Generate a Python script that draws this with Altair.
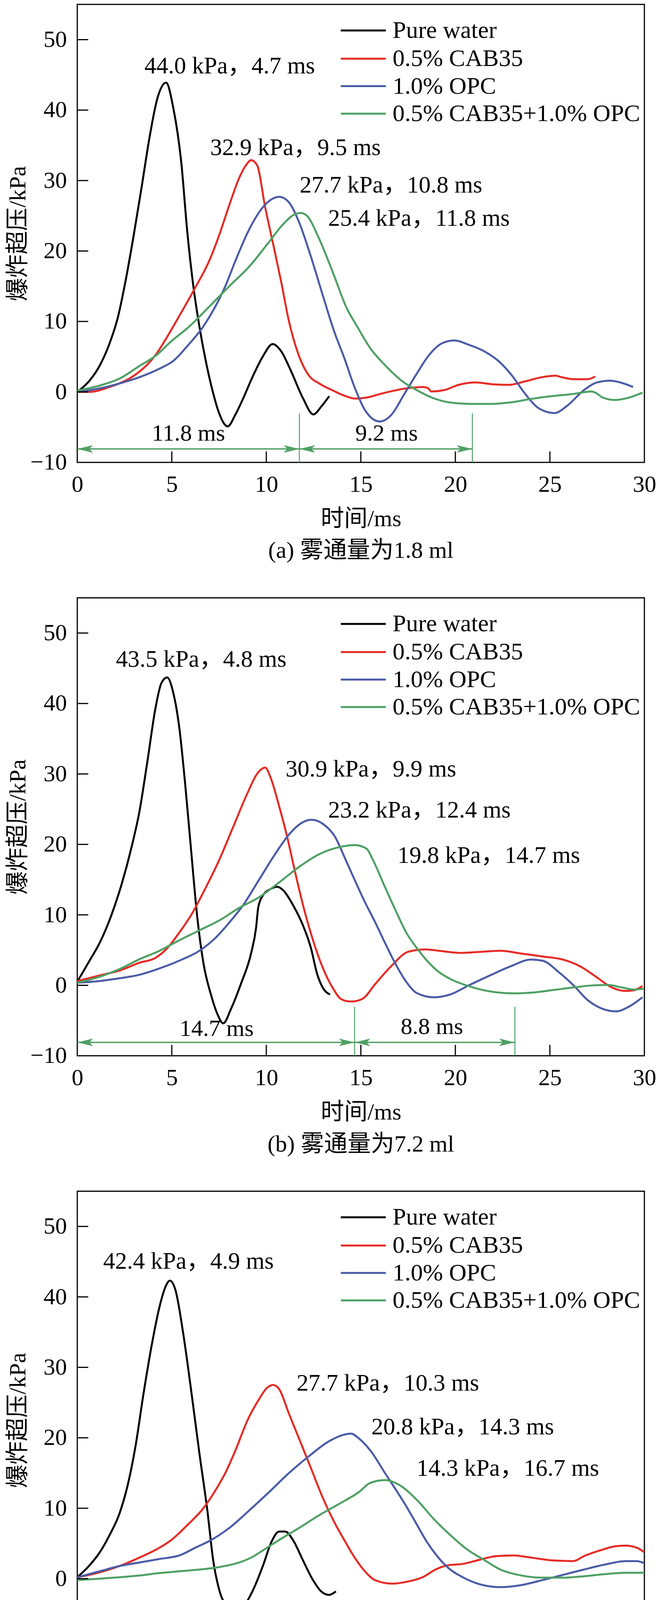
import altair as alt
import pandas as pd

FONT = "Liberation Serif, Noto Sans CJK SC"
SERIES = ["Pure water", "0.5% CAB35", "1.0% OPC", "0.5% CAB35+1.0% OPC"]
COLORS = ["#000000", "#E62B25", "#4A5BA6", "#4FA064"]
GREEN = "#4FA064"

X_TICKS = [0, 5, 10, 15, 20, 25, 30]
Y_TICKS = [-10, 0, 10, 20, 30, 40, 50]

# ---------------- panel (a) 1.8 ml ----------------
a_black_t = [0, 0.65, 1.18, 1.71, 2.13, 2.55, 2.97, 3.4, 3.82, 4.24, 4.7, 5.08, 5.5, 5.82, 6.14, 6.46, 6.77, 7.19, 7.5, 7.96, 8.35, 8.78, 9.3, 9.83, 10.34, 10.78, 11.3, 11.94, 12.49, 12.9, 13.33]
a_black_p = [0, 1.6, 3.7, 6.9, 10.4, 15.7, 22, 29, 36.1, 41.7, 43.9, 40.3, 32.6, 22.7, 15, 9.3, 4.75, -0.2, -3, -4.9, -3.3, -0.9, 2.3, 5.1, 6.8, 5.8, 3.0, -0.9, -3.2, -2.1, -0.6]
a_red_t = [0, 0.65, 1.71, 2.76, 3.3, 3.6, 4.13, 4.66, 5.4, 6.24, 6.98, 7.5, 8.04, 8.57, 8.93, 9.2, 9.51, 9.94, 10.36, 10.78, 11.2, 11.73, 12.26, 12.8, 13.6, 14.1, 14.7, 15.3, 16.3, 17.4, 18.3, 18.57, 18.73, 19.4, 20.17, 21.05, 21.9, 22.8, 23.7, 24.6, 25.3, 25.6, 26.25, 27.0, 27.4]
a_red_p = [0, 0, 0.7, 1.9, 2.9, 3.6, 5.2, 7.4, 10.8, 14.8, 18.6, 22.2, 26.5, 30.4, 32.2, 32.9, 32.2, 26.2, 21, 15.7, 10, 5.1, 2.3, 1.2, 0.1, -0.5, -0.95, -0.8, -0.1, 0.5, 0.7, 0.5, 0.06, 0.25, 1.0, 1.35, 1.1, 1.0, 1.5, 2.1, 2.3, 2.1, 1.8, 1.8, 2.2]
a_blue_t = [0, 1.18, 2.24, 3.3, 4.35, 5.08, 5.82, 6.67, 7.3, 7.83, 8.35, 9.1, 9.62, 10.15, 10.68, 11.2, 11.73, 12.36, 13.0, 13.6, 14.1, 14.65, 15.2, 16.0, 16.6, 17.3, 17.96, 18.6, 19.3, 19.95, 20.7, 21.5, 22.4, 23.0, 23.7, 24.4, 25.25, 25.9, 26.8, 27.5, 28.2, 28.9, 29.4]
a_blue_p = [0, 0.5, 1.2, 2.1, 3.3, 4.4, 6.5, 9.3, 12.1, 15, 18.5, 23.1, 25.5, 27.1, 27.7, 26.9, 24.1, 19.2, 13.6, 8.5, 5.0, 0.8, -2.5, -4.2, -3.3, -0.3, 2.6, 5.2, 6.9, 7.3, 6.7, 5.8, 4.1, 2.3, -0.3, -2.3, -3.0, -2.0, 0.25, 1.35, 1.6, 1.2, 0.7]
a_green_t = [0, 1.18, 2.24, 3.3, 4.13, 4.98, 5.93, 6.98, 8.04, 9.1, 10.15, 10.89, 11.5, 11.84, 12.15, 12.8, 13.6, 14.2, 14.87, 15.5, 16.3, 17.2, 17.96, 18.85, 19.7, 20.7, 21.8, 22.9, 24.0, 25.1, 26.2, 27.2, 27.4, 27.8, 28.45, 29.2, 29.9]
a_green_p = [0.2, 0.9, 1.9, 3.7, 5.1, 7.2, 9.3, 12.1, 15, 17.8, 21.3, 23.8, 25.2, 25.4, 25.0, 21.7, 16.4, 12.2, 9.0, 6.2, 3.75, 1.5, 0.25, -0.9, -1.5, -1.7, -1.7, -1.5, -1.0, -0.6, -0.3, 0.06, -0.1, -0.8, -1.15, -0.8, -0.1]
a_notes = ["44.0 kPa，4.7 ms", "32.9 kPa，9.5 ms", "27.7 kPa，10.8 ms", "25.4 kPa，11.8 ms"]
a_notes_t = [3.55, 7.03, 11.77, 13.27]
a_notes_p = [46.2, 34.6, 29.3, 24.6]
a_marks = [11.75, 20.9]
a_dims = ["11.8 ms", "9.2 ms"]
a_dims_t = [5.88, 16.36]
a_dims_p = [-5.9, -5.9]

# ---------------- panel (b) 7.2 ml ----------------
b_black_t = [0, 0.65, 1.18, 1.81, 2.34, 2.87, 3.29, 3.71, 4.14, 4.45, 4.75, 5.08, 5.4, 5.72, 6.03, 6.35, 6.67, 7.09, 7.4, 7.72, 8.14, 8.67, 9.2, 9.46, 9.57, 9.83, 10.25, 10.57, 10.89, 11.41, 11.94, 12.36, 12.68, 13.0, 13.37]
b_black_p = [0.5, 3.5, 6, 10, 14.3, 19.6, 24.7, 31.8, 39.4, 42.9, 43.7, 41.5, 36.5, 28.2, 18.9, 9.6, 3.2, -1.5, -4.0, -5.4, -3.3, 0.3, 4.6, 8.2, 11.0, 12.8, 13.7, 14.0, 13.5, 11.4, 8.5, 5.3, 1.7, -0.4, -1.3]
b_red_t = [0, 1.18, 2.24, 3.29, 4.14, 4.77, 5.4, 6.03, 6.67, 7.51, 8.25, 8.99, 9.51, 9.94, 10.25, 10.68, 11.1, 11.52, 11.94, 12.47, 13.0, 13.52, 13.98, 14.5, 15.1, 15.75, 16.6, 17.5, 18.4, 19.3, 20.3, 21.3, 22.4, 23.5, 24.6, 25.7, 26.6, 27.5, 28.2, 29.0, 29.45, 29.9]
b_red_p = [0.6, 1.4, 2.1, 3.2, 3.9, 5.3, 7.5, 10.0, 13.2, 17.8, 22.5, 27.2, 30.0, 30.9, 29.3, 25.4, 21.1, 16.1, 11.4, 6.4, 2.4, -0.4, -2.0, -2.3, -1.9, 0.15, 2.7, 4.75, 5.1, 4.85, 4.6, 4.75, 4.9, 4.5, 4.1, 3.65, 2.7, 1.1, -0.2, -0.8, -0.7, -0.1]
b_blue_t = [0, 1.18, 2.24, 3.29, 4.35, 5.4, 6.46, 7.3, 8.04, 8.78, 9.62, 10.46, 11.2, 11.84, 12.38, 13.0, 13.63, 14.2, 14.65, 15.2, 15.75, 16.3, 16.86, 17.4, 17.96, 18.85, 19.73, 20.72, 21.83, 22.93, 24.0, 24.6, 25.5, 26.25, 27.0, 27.8, 28.5, 29.2, 29.9]
b_blue_p = [0.36, 0.6, 1.0, 1.5, 2.4, 3.5, 4.9, 6.7, 8.9, 11.4, 15, 18.6, 21.4, 23.0, 23.5, 22.9, 21.1, 17.8, 15.1, 11.9, 9.0, 5.9, 2.9, 0.5, -1.1, -1.7, -1.3, 0.0, 1.4, 2.7, 3.65, 3.5, 1.8, 0.0, -2.1, -3.35, -3.7, -3.0, -1.7]
b_green_t = [0, 1.18, 2.24, 3.29, 4.35, 5.4, 6.46, 7.51, 8.57, 9.62, 10.68, 11.73, 12.79, 13.84, 14.68, 15.3, 15.64, 16.3, 16.86, 17.4, 17.96, 18.5, 19.07, 19.73, 20.72, 21.83, 23.15, 24.0, 25.1, 26.25, 27.35, 28.1, 28.8, 29.45, 29.95]
b_green_p = [0.36, 1.2, 2.3, 3.7, 4.9, 6.4, 7.8, 9.2, 11.0, 12.5, 14.6, 16.8, 18.6, 19.6, 19.9, 19.4, 17.8, 13.8, 10.5, 7.5, 5.3, 3.5, 2.0, 0.9, -0.13, -0.87, -1.15, -1.05, -0.7, -0.3, 0.0, 0.05, -0.3, -0.6, -0.5]
b_notes = ["43.5 kPa，4.8 ms", "30.9 kPa，9.9 ms", "23.2 kPa，12.4 ms", "19.8 kPa，14.7 ms"]
b_notes_t = [2.04, 11.02, 13.27, 16.94]
b_notes_p = [46.2, 30.6, 24.8, 18.4]
b_marks = [14.67, 23.15]
b_dims = ["14.7 ms", "8.8 ms"]
b_dims_t = [7.37, 18.76]
b_dims_p = [-6.2, -5.9]

# ---------------- panel (c) 12.6 ml ----------------
c_black_t = [0, 0.65, 1.18, 1.71, 2.24, 2.66, 3.08, 3.5, 3.92, 4.35, 4.66, 4.9, 5.19, 5.61, 6.03, 6.46, 6.88, 7.19, 7.51, 7.93, 8.35, 8.78, 9.3, 9.83, 10.25, 10.68, 11.0, 11.41, 11.94, 12.47, 12.9, 13.31, 13.68]
c_black_p = [0.2, 1.9, 3.7, 6.2, 9.3, 13.2, 18.8, 26.2, 32.9, 38.6, 41.4, 42.3, 41.0, 34.7, 26.6, 17.8, 9.7, 2.6, -1.6, -4.0, -4.75, -4.0, -1.6, 1.9, 5.1, 6.7, 6.7, 5.5, 2.6, -0.2, -1.8, -2.3, -1.8]
c_red_t = [0, 1.18, 2.24, 3.29, 4.35, 4.98, 5.82, 6.67, 7.3, 7.83, 8.35, 8.99, 9.62, 10.04, 10.36, 10.68, 11.2, 11.73, 12.36, 13.0, 13.6, 14.1, 14.65, 15.2, 15.75, 16.63, 17.5, 18.3, 18.95, 19.6, 20.4, 21.3, 22.15, 23.05, 24.0, 25.1, 26.25, 26.8, 27.7, 28.45, 29.0, 29.6, 30.0]
c_red_p = [0.2, 0.9, 1.8, 3.0, 4.4, 5.5, 7.6, 10.0, 12.5, 15.0, 18.1, 22.4, 25.5, 27.1, 27.5, 26.9, 23.4, 19.9, 15.7, 11.4, 8.0, 5.6, 3.1, 1.1, -0.2, -0.7, -0.4, 0.25, 1.3, 1.9, 2.1, 2.7, 3.2, 3.3, 3.0, 2.6, 2.5, 3.2, 4.05, 4.6, 4.7, 4.4, 3.75]
c_blue_t = [0, 1.18, 2.24, 3.29, 4.35, 5.4, 6.25, 7.09, 8.04, 9.1, 10.15, 11.2, 12.26, 13.31, 14.05, 14.47, 14.9, 15.53, 16.3, 16.86, 17.4, 17.96, 18.5, 19.07, 19.73, 20.4, 21.3, 22.38, 23.5, 24.6, 25.7, 26.8, 27.9, 29.0, 29.6, 30.0]
c_blue_p = [0.2, 1.05, 1.8, 2.3, 2.8, 3.3, 4.4, 5.5, 7.2, 9.7, 12.3, 15.0, 17.4, 19.5, 20.4, 20.6, 19.9, 18.1, 14.9, 12.6, 10.3, 7.7, 5.2, 3.1, 1.3, 0.2, -0.8, -1.2, -0.9, -0.2, 0.55, 1.3, 2.0, 2.5, 2.5, 2.2]
c_green_t = [0, 1.18, 2.24, 3.29, 4.35, 5.4, 6.46, 7.51, 8.57, 9.2, 10.04, 10.68, 11.73, 12.79, 13.84, 14.9, 15.5, 16.3, 17.1, 17.96, 18.85, 19.73, 20.6, 21.5, 22.38, 23.5, 24.6, 25.7, 26.8, 27.9, 29.0, 30.0]
c_green_p = [-0.2, 0.0, 0.2, 0.45, 0.8, 1.05, 1.3, 1.65, 2.3, 3.0, 4.4, 5.5, 7.2, 9.0, 10.6, 12.3, 13.6, 14.0, 13.2, 11.2, 8.5, 6.2, 4.2, 2.7, 1.3, 0.45, 0.15, 0.15, 0.35, 0.65, 0.85, 0.85]
c_notes = ["42.4 kPa，4.9 ms", "27.7 kPa，10.3 ms", "20.8 kPa，14.3 ms", "14.3 kPa，16.7 ms"]
c_notes_t = [1.37, 11.6, 15.56, 17.95]
c_notes_p = [45.0, 27.7, 21.5, 15.6]
c_marks = [16.72, 25.0]
c_dims = ["16.7 ms", "8.3 ms"]
c_dims_t = [8.5, 21.35]
c_dims_p = [-6.2, -5.85]

CAPTIONS = ["(a) 雾通量为1.8 ml", "(b) 雾通量为7.2 ml", "(c) 雾通量为12.6 ml"]

# legend rows (kPa positions inside the plot) and line extent (ms)
LEG_P = [51.3, 47.3, 43.4, 39.5]
LEG_T0, LEG_T1, LEG_TT = 13.94, 16.32, 16.68
ARROW_P = -8.1
MARK_TOP = -3.05
TICK_LEN_P = 1.55
TICK_LEN_T = 0.58

W, H = 1453, 1173
XS = alt.Scale(domain=[0, 30], nice=False, zero=False)
YS = alt.Scale(domain=[-10, 55], nice=False, zero=False)
XAX = alt.Axis(values=X_TICKS, labelPadding=28, titlePadding=29, labelFlush=False, labelOverlap=False)
YAX = alt.Axis(values=Y_TICKS, labelPadding=27, titlePadding=0, labelFlush=False, labelOverlap=False)
XT = "时间/ms"
YT = "爆炸超压/kPa"


def ex(f):
    return alt.X(f, type="quantitative", scale=XS, axis=XAX, title=XT)


def ey(f):
    return alt.Y(f, type="quantitative", scale=YS, axis=YAX, title=YT)


def panel(curves, notes, notes_t, notes_p, marks, dims, dims_t, dims_p, caption):
    layers = []
    for (t, p), color in zip(curves, COLORS):
        df = pd.DataFrame({"t": t, "p": p})
        layers.append(alt.Chart(df).mark_line(color=color, strokeWidth=5, interpolate="monotone", clip=True)
                      .encode(x=ex("t"), y=ey("p")))
    # inward ticks
    xt = pd.DataFrame({"t": X_TICKS[1:-1], "p0": Y_TICKS[0], "p1": Y_TICKS[0] + TICK_LEN_P})
    layers.append(alt.Chart(xt).mark_rule(color="black", strokeWidth=3)
                  .encode(x=ex("t"), y=ey("p0"), y2="p1:Q"))
    yt = pd.DataFrame({"p": Y_TICKS[1:], "t0": X_TICKS[0], "t1": X_TICKS[0] + TICK_LEN_T})
    layers.append(alt.Chart(yt).mark_rule(color="black", strokeWidth=3)
                  .encode(y=ey("p"), x=ex("t0"), x2="t1:Q"))
    # legend
    lg = pd.DataFrame({"name": SERIES, "p": LEG_P, "t0": LEG_T0, "t1": LEG_T1, "tt": LEG_TT, "c": COLORS})
    layers.append(alt.Chart(lg).mark_rule(strokeWidth=5)
                  .encode(y=ey("p"), x=ex("t0"), x2="t1:Q", color=alt.Color("c:N", scale=None)))
    layers.append(alt.Chart(lg).mark_text(font=FONT, fontSize=62, align="left", baseline="middle", color="black")
                  .encode(y=ey("p"), x=ex("tt"), text="name:N"))
    # peak annotations
    nd = pd.DataFrame({"s": notes, "t": notes_t, "p": notes_p})
    layers.append(alt.Chart(nd).mark_text(font=FONT, fontSize=61, align="left", baseline="middle", color="black")
                  .encode(x=ex("t"), y=ey("p"), text="s:N"))
    # dimension lines
    seg = pd.DataFrame({"t0": [X_TICKS[0], marks[0]], "t1": [marks[0], marks[1]], "p": ARROW_P})
    layers.append(alt.Chart(seg).mark_rule(color=GREEN, strokeWidth=3.5)
                  .encode(x=ex("t0"), x2="t1:Q", y=ey("p")))
    vm = pd.DataFrame({"t": marks, "p0": Y_TICKS[0], "p1": MARK_TOP})
    layers.append(alt.Chart(vm).mark_rule(color=GREEN, strokeWidth=2.5)
                  .encode(x=ex("t"), y=ey("p0"), y2="p1:Q"))
    lh = pd.DataFrame({"t": [X_TICKS[0], marks[0]], "p": ARROW_P})
    layers.append(alt.Chart(lh).mark_point(shape="M0,0 L2,-0.48 L1.55,0 L2,0.48 Z", filled=True, size=1600,
                                           color=GREEN, opacity=1, strokeWidth=0)
                  .encode(x=ex("t"), y=ey("p")))
    rh = pd.DataFrame({"t": marks, "p": ARROW_P})
    layers.append(alt.Chart(rh).mark_point(shape="M0,0 L-2,-0.48 L-1.55,0 L-2,0.48 Z", filled=True, size=1600,
                                           color=GREEN, opacity=1, strokeWidth=0)
                  .encode(x=ex("t"), y=ey("p")))
    dd = pd.DataFrame({"s": dims, "t": dims_t, "p": dims_p})
    layers.append(alt.Chart(dd).mark_text(font=FONT, fontSize=60, align="center", baseline="middle", color="black")
                  .encode(x=ex("t"), y=ey("p"), text="s:N"))
    return alt.layer(*layers).properties(
        width=W, height=H,
        title=alt.TitleParams(caption, orient="bottom", anchor="middle", frame="group", fontSize=60,
                              font=FONT, fontWeight="normal", color="black", offset=23))


pa = panel([(a_black_t, a_black_p), (a_red_t, a_red_p), (a_blue_t, a_blue_p), (a_green_t, a_green_p)],
           a_notes, a_notes_t, a_notes_p, a_marks, a_dims, a_dims_t, a_dims_p, CAPTIONS[0])
pb = panel([(b_black_t, b_black_p), (b_red_t, b_red_p), (b_blue_t, b_blue_p), (b_green_t, b_green_p)],
           b_notes, b_notes_t, b_notes_p, b_marks, b_dims, b_dims_t, b_dims_p, CAPTIONS[1])
pc = panel([(c_black_t, c_black_p), (c_red_t, c_red_p), (c_blue_t, c_blue_p), (c_green_t, c_green_p)],
           c_notes, c_notes_t, c_notes_p, c_marks, c_dims, c_dims_t, c_dims_p, CAPTIONS[2])

chart = alt.vconcat(pa, pb, pc, spacing=86,
                    padding={"left": 6, "top": 0, "right": 0, "bottom": 0}).configure_view(
    stroke="black", strokeWidth=3
).configure_axis(
    labelFont=FONT, labelFontSize=60, labelColor="black",
    titleFont=FONT, titleFontSize=60, titleFontWeight="normal", titleColor="black",
    domain=False, ticks=False, tickSize=0, grid=False
).configure_title(font=FONT)

chart.save("out.html", embed_options={"renderer": "svg", "actions": False})
